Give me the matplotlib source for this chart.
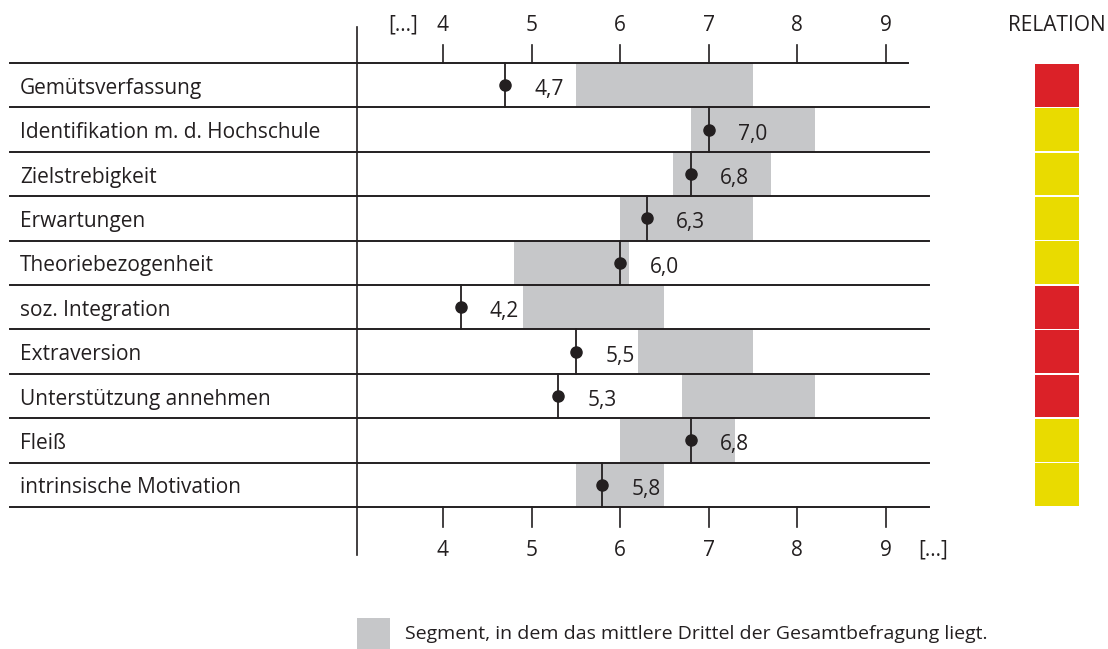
import matplotlib
matplotlib.use("Agg")
import matplotlib.pyplot as plt
from matplotlib.patches import Rectangle

# -----------------------------------------------------------------------
# Data
# -----------------------------------------------------------------------
categories = [
    "Gemütsverfassung",
    "Identifikation m. d. Hochschule",
    "Zielstrebigkeit",
    "Erwartungen",
    "Theoriebezogenheit",
    "soz. Integration",
    "Extraversion",
    "Unterstützung annehmen",
    "Fleiß",
    "intrinsische Motivation",
]
values = [4.7, 7.0, 6.8, 6.3, 6.0, 4.2, 5.5, 5.3, 6.8, 5.8]
seg_low = [5.5, 6.8, 6.6, 6.0, 4.8, 4.9, 6.2, 6.7, 6.0, 5.5]
seg_high = [7.5, 8.2, 7.7, 7.5, 6.1, 6.5, 7.5, 8.2, 7.3, 6.5]
relation = ["rot", "gelb", "gelb", "gelb", "gelb", "rot", "rot", "rot", "gelb", "gelb"]
ticks = [4, 5, 6, 7, 8, 9]

rel_colors = {"rot": "#DB2128", "gelb": "#E9DB00"}
seg_color = "#C6C7C9"
ink = "#231F20"
font = ["Open Sans", "DejaVu Sans"]
plt.rcParams["font.family"] = font

# -----------------------------------------------------------------------
# Figure: one axes over the whole canvas, x in scale units, y in rows
# -----------------------------------------------------------------------
W, H = 1108, 649
fig = plt.figure(figsize=(W / 100, H / 100), dpi=100)
ax = fig.add_axes([0, 0, 1, 1])
px_per_unit = 88.6
x0 = 4 - 443 / px_per_unit
ax.set_xlim(x0, x0 + W / px_per_unit)
row_px = 44.4
top_px = 63
ax.set_ylim((H - top_px) / row_px, -top_px / row_px)
ax.axis("off")

n = len(categories)
x_axis = 3.03          # vertical axis position
x_left = x0 + 10 / px_per_unit
x_right = 9.48
fs = 15

# gray segments
for i in range(n):
    ax.add_patch(Rectangle((seg_low[i], i), seg_high[i] - seg_low[i], 1,
                           color=seg_color, lw=0, zorder=1))

# row lines
ax.plot([x_left, 9.25], [0, 0], color=ink, lw=1.4, zorder=2)
for k in range(1, n + 1):
    ax.plot([x_left, x_right], [k, k], color=ink, lw=1.4, zorder=2)

# vertical axis line
ax.plot([x_axis, x_axis], [-0.82, n + 1.08], color=ink, lw=1.2, zorder=2)

# ticks top and bottom
for t in ticks:
    ax.plot([t, t], [-0.4, 0], color=ink, lw=1.2, zorder=2)
    ax.plot([t, t], [n, n + 0.45], color=ink, lw=1.2, zorder=2)
    ax.text(t, -0.84, str(t), ha="center", va="center", fontsize=fs, color=ink)
    ax.text(t, n + 0.97, str(t), ha="center", va="center", fontsize=fs, color=ink)
ax.text(3.55, -0.86, "[...]", ha="center", va="center", fontsize=fs, color=ink)
ax.text(9.53, n + 0.97, "[...]", ha="center", va="center", fontsize=fs, color=ink)

# values: stem + dot + label
for i, v in enumerate(values):
    ax.plot([v, v], [i, i + 1], color=ink, lw=1.3, zorder=3)
    ax.plot(v, i + 0.5, "o", color=ink, ms=8, zorder=4)
    ax.text(v + 0.33, i + 0.6, f"{v:.1f}".replace(".", ","),
            ha="left", va="center", fontsize=fs, color=ink, zorder=4)

# category labels
for i, c in enumerate(categories):
    ax.text(x0 + 20 / px_per_unit, i + 0.57, c, ha="left", va="center",
            fontsize=fs, color=ink)

# RELATION column
rx0, rx1 = 10.68, 11.18
ax.text((rx0 + rx1) / 2, -0.84, "RELATION", ha="center", va="center",
        fontsize=fs, color=ink)
for i, r in enumerate(relation):
    ax.add_patch(Rectangle((rx0, i + 0.02), rx1 - rx0, 0.96,
                           color=rel_colors[r], lw=0, zorder=1))

# legend
ly = (634 - top_px) / row_px
ax.add_patch(Rectangle((x_axis, ly - 0.37), 33 / px_per_unit, 0.74,
                       color=seg_color, lw=0))
ax.text(x_axis + 48 / px_per_unit, ly,
        "Segment, in dem das mittlere Drittel der Gesamtbefragung liegt.",
        ha="left", va="center", fontsize=14, color=ink)

fig.savefig("out.png", dpi=100)
